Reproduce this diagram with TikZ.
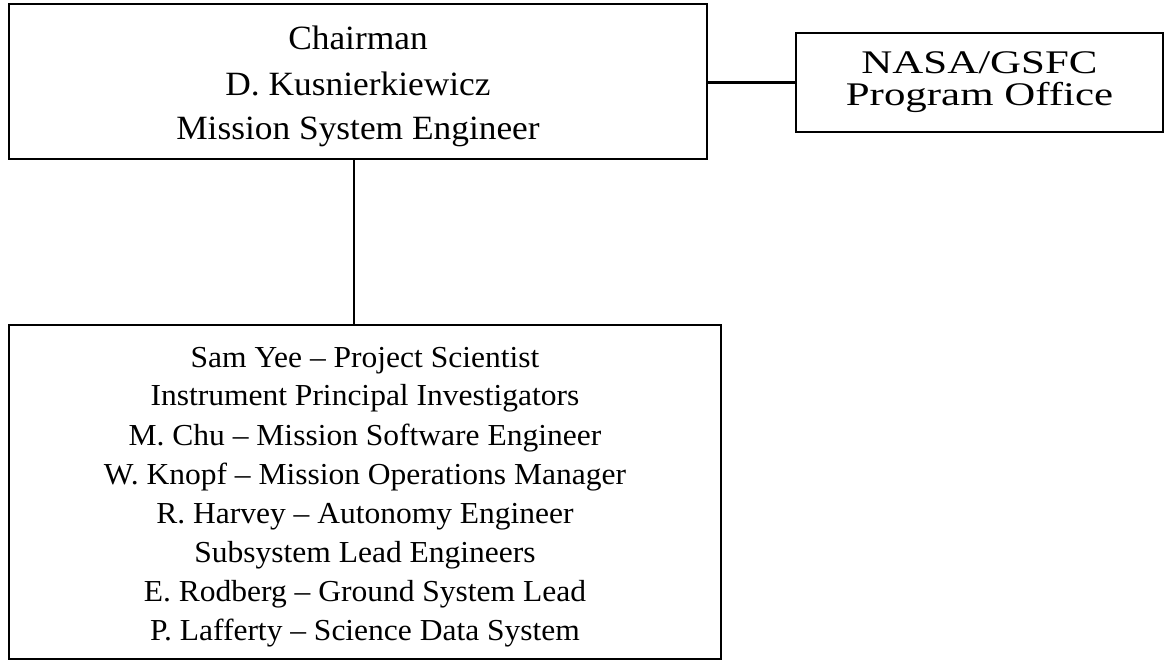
\documentclass[tikz,border=0pt]{standalone}
\usepackage{fontspec}
\setmainfont{Liberation Serif}
\newfontfamily\topfont[FakeStretch=1.04]{Liberation Serif}
\newfontfamily\nasafont[FakeStretch=1.3]{Liberation Serif}
\newfontfamily\teamfont[FakeStretch=1.033]{Liberation Serif}
\begin{document}
\begin{tikzpicture}[x=1pt,y=-1pt,
  box/.style={draw, line width=2.2pt, inner sep=0pt},
  conn/.style={line width=2.2pt},
  bigtxt/.style={anchor=base, inner sep=0pt, font=\topfont\fontsize{34}{40}\selectfont},
  midtxt/.style={anchor=base, inner sep=0pt, font=\nasafont\fontsize{33}{40}\selectfont},
  smalltxt/.style={anchor=base, inner sep=0pt, font=\teamfont\fontsize{30.5}{36}\selectfont}]
\useasboundingbox (0,0) rectangle (1165,660);
\fill[white] (0,0) rectangle (1165,660);
\node[box, minimum width=698pt, minimum height=155pt] (chair) at (358,81.5) {};
\node[box, minimum width=367pt, minimum height=99pt] (nasa) at (979.5,82.5) {};
\node[box, minimum width=712pt, minimum height=334pt] (team) at (365,492) {};
\draw[conn] (nasa.west) -- (nasa.west -| chair.east);
\draw[conn] ([xshift=-4pt]chair.south) -- ([xshift=-4pt]chair.south |- team.north);
\node[bigtxt] (c1) at (358,50) {Chairman};
\node[bigtxt] (c2) at (358,96) {D. Kusnierkiewicz};
\node[bigtxt] (c3) at (358,140) {Mission System Engineer};
\node[midtxt] (n1) at (979.5,74) {NASA/GSFC};
\node[midtxt] (n2) at (979.5,106) {Program Office};
\foreach \t [count=\i] in {Sam Yee – Project Scientist, Instrument Principal Investigators, M. Chu – Mission Software Engineer, W. Knopf – Mission Operations Manager, R. Harvey – Autonomy Engineer, Subsystem Lead Engineers, E. Rodberg – Ground System Lead, P. Lafferty – Science Data System}
  \node[smalltxt] (t\i) at (365,{367+(\i-1)*39}) {\t};
\end{tikzpicture}
\end{document}
